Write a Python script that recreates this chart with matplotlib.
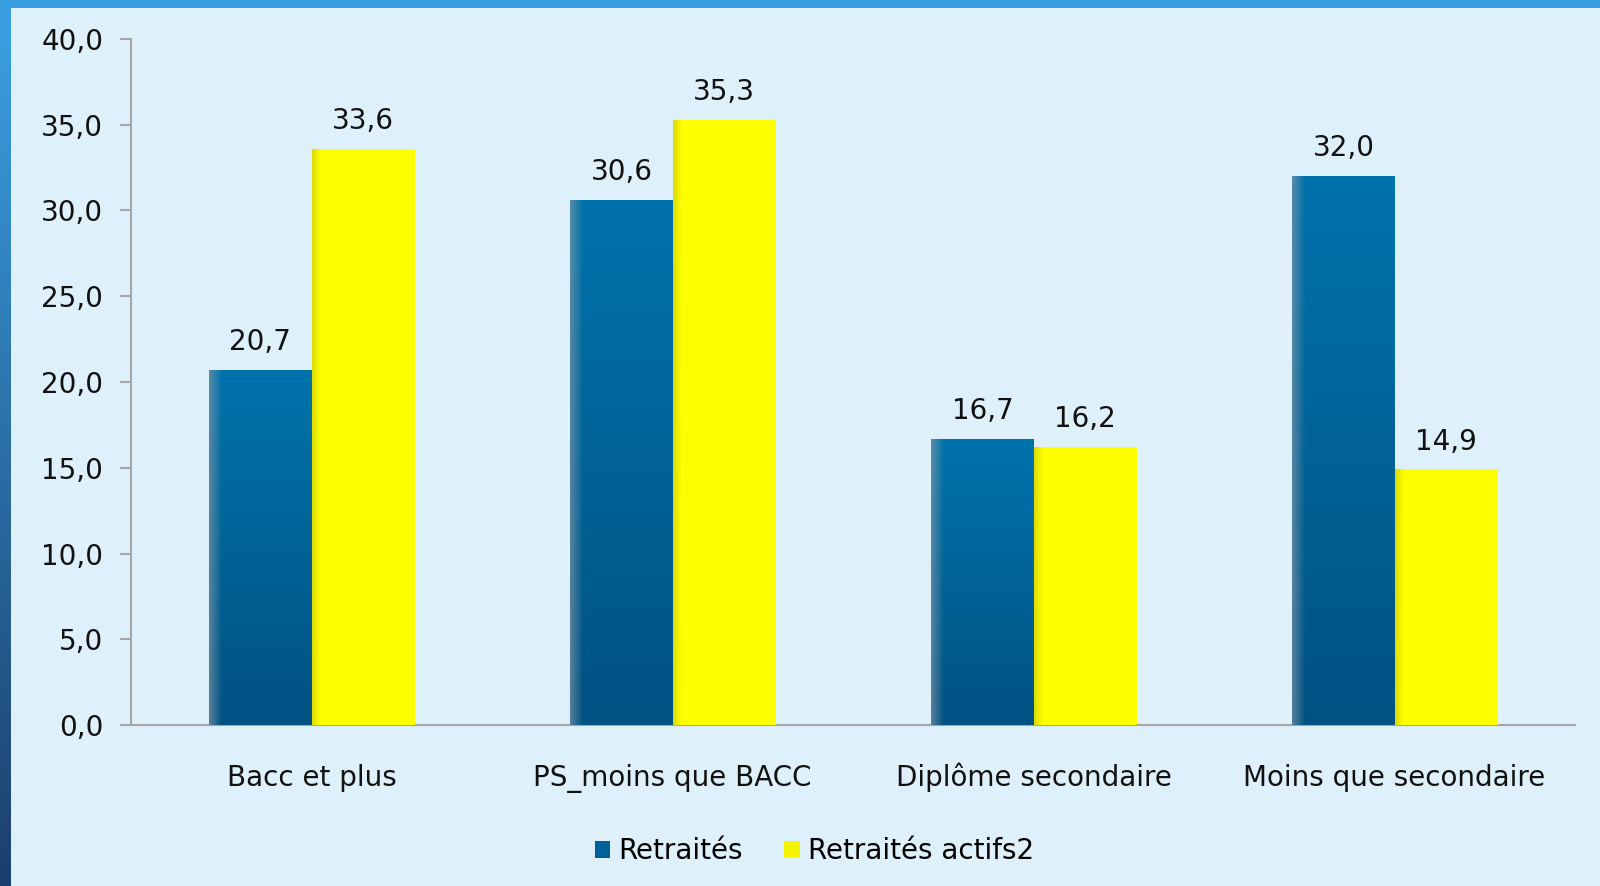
import numpy as np
import matplotlib
matplotlib.use("Agg")
import matplotlib.pyplot as plt
from matplotlib.patches import Patch

categories = ["Bacc et plus", "PS_moins que BACC", "Diplôme secondaire", "Moins que secondaire"]
retraites = [20.7, 30.6, 16.7, 32.0]
retraites_actifs = [33.6, 35.3, 16.2, 14.9]
series_names = ["Retraités", "Retraités actifs2"]
yticks = [0, 5, 10, 15, 20, 25, 30, 35, 40]

BG = "#DEF0FA"
FS = 20
plt.rcParams["font.family"] = ["DejaVu Sans"]


def fr(v):
    return f"{v:.1f}".replace(".", ",")


def gradient_img(top, bottom, edge=None, edge_frac=0.08):
    # vertical gradient, optional darker left edge
    n, m = 200, 60
    t = np.linspace(0, 1, n)[:, None, None]
    top = np.array(matplotlib.colors.to_rgb(top))
    bottom = np.array(matplotlib.colors.to_rgb(bottom))
    img = np.broadcast_to(top * (1 - t) + bottom * t, (n, m, 3)).copy()
    if edge is not None:
        e = np.array(matplotlib.colors.to_rgb(edge))
        x = np.linspace(0, 1, m)
        w = np.clip(1 - x / edge_frac, 0, 1)[None, :, None] * 0.6
        img = img * (1 - w) + e * w
    return img


fig = plt.figure(figsize=(16, 8.86), dpi=100, facecolor=BG)

# frame: top band and left gradient band
top_ax = fig.add_axes([0, 1 - 8 / 886, 1, 8 / 886])
top_ax.set_axis_off()
top_ax.add_patch(plt.Rectangle((0, 0), 1, 1, color="#38A0E0", transform=top_ax.transAxes))
left_ax = fig.add_axes([0, 0, 11 / 1600, 1 - 8 / 886])
left_ax.set_axis_off()
left_ax.imshow(gradient_img("#3AA0E2", "#1B3F6C"), aspect="auto", extent=(0, 1, 0, 1))

ax = fig.add_axes([131 / 1600, 1 - 725 / 886, (1575 - 131) / 1600, (725 - 39) / 886])
ax.set_facecolor(BG)

x = np.arange(len(categories))
w = 0.283
blue_bars = ax.bar(x - w / 2, retraites, w, color="#0065A0", zorder=2)
yellow_bars = ax.bar(x + w / 2, retraites_actifs, w, color="#FFFF00", zorder=2)

blue_img = gradient_img("#0073AC", "#005282", edge="#8A9AA8", edge_frac=0.12)
yellow_img = gradient_img("#FFFF00", "#FFFF00", edge="#C8C800", edge_frac=0.08)
for bars, img in ((blue_bars, blue_img), (yellow_bars, yellow_img)):
    for b in bars:
        x0, h = b.get_x(), b.get_height()
        im = ax.imshow(img, aspect="auto", extent=(x0, x0 + b.get_width(), 0, h),
                       zorder=3, interpolation="bilinear")
        im.set_clip_path(b)

for bars in (blue_bars, yellow_bars):
    for b in bars:
        ax.annotate(fr(b.get_height()), (b.get_x() + b.get_width() / 2, b.get_height()),
                    xytext=(0, 10), textcoords="offset points", ha="center", va="bottom",
                    fontsize=FS, color="#111111")

ax.set_xlim(-0.5, len(categories) - 0.5)
ax.set_ylim(0, 40)
ax.set_yticks(yticks)
ax.set_yticklabels([fr(v) for v in yticks], fontsize=FS, color="#111111")
ax.set_xticks(x)
ax.set_xticklabels(categories, fontsize=FS, color="#111111")
for lbl in ax.get_xticklabels():
    lbl.set_verticalalignment("baseline")
ax.tick_params(axis="x", length=0, pad=44)
ax.tick_params(axis="y", length=8, width=1.5, color="#A6A6A6", pad=12)
for s in ("top", "right"):
    ax.spines[s].set_visible(False)
for s in ("left", "bottom"):
    ax.spines[s].set_color("#A6A6A6")
    ax.spines[s].set_linewidth(1.5)

handles = [Patch(facecolor="#00609A", edgecolor="none"),
           Patch(facecolor="#F4F400", edgecolor="none")]
fig.legend(handles, series_names, loc="center", bbox_to_anchor=(0.509, 1 - 851 / 886),
           ncol=2, frameon=False, fontsize=FS, handlelength=0.55, handleheight=0.55,
           handletextpad=0.3, columnspacing=1.5)

fig.savefig("out.png", dpi=100, facecolor=BG)
